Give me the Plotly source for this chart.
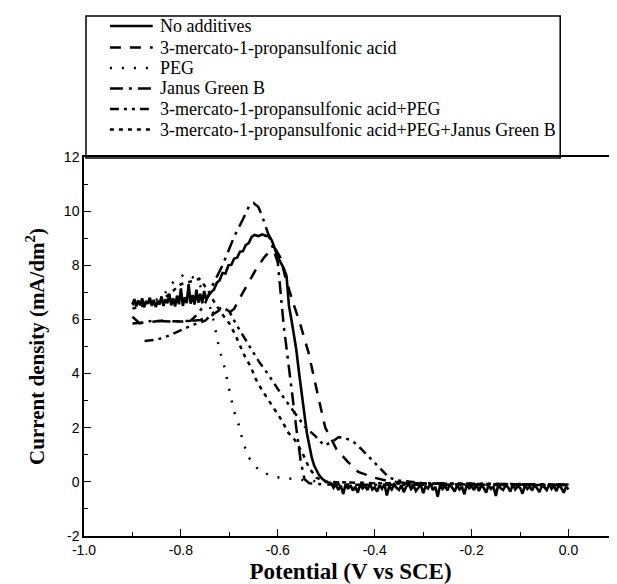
import plotly.graph_objects as go

# ---------------- data ----------------
NOADD_X = [-0.900,-0.896,-0.892,-0.888,-0.884,-0.880,-0.876,-0.872,-0.868,-0.864,-0.860,-0.856,-0.852,-0.848,
           -0.844,-0.840,-0.836,-0.832,-0.828,-0.824,-0.820,-0.816,-0.812,-0.808,-0.804,-0.800,-0.796,-0.792,
           -0.788,-0.784,-0.780,-0.776,-0.772,-0.768,-0.764,-0.760,-0.756,-0.752,-0.748,
           -0.744,-0.738,-0.732,-0.726,-0.720,-0.714,-0.708,-0.702,-0.696,-0.690,-0.684,-0.678,-0.672,-0.666,
           -0.660,-0.654,-0.648,-0.640,-0.632,-0.624,-0.618,-0.612,-0.606,-0.600,-0.594,-0.588,-0.582,-0.577,
           -0.572,-0.567,-0.562,-0.556,-0.550,-0.545,-0.540,-0.535,-0.530,-0.525,-0.520,-0.515,-0.508,-0.500,
           -0.495,
           -0.490,-0.485,-0.480,-0.475,-0.470,-0.465,-0.460,-0.455,-0.450,-0.445,-0.440,-0.435,-0.430,-0.425,
           -0.420,-0.415,-0.410,-0.405,-0.400,-0.395,-0.390,-0.385,-0.380,-0.375,-0.370,-0.365,-0.360,-0.355,
           -0.350,-0.345,-0.340,-0.335,-0.330,-0.325,-0.320,-0.315,-0.310,-0.305,-0.300,-0.295,-0.290,-0.285,
           -0.280,-0.275,-0.270,-0.265,-0.260,-0.255,-0.250,-0.245,-0.240,-0.235,-0.230,-0.225,-0.220,-0.215,
           -0.210,-0.205,-0.200,-0.195,-0.190,-0.185,-0.180,-0.175,-0.170,-0.165,-0.160,-0.155,-0.150,-0.145,
           -0.140,-0.135,-0.130,-0.125,-0.120,-0.115,-0.110,-0.105,-0.100,-0.095,-0.090,-0.085,-0.080,-0.075,
           -0.070,-0.065,-0.060,-0.055,-0.050,-0.045,-0.040,-0.035,-0.030,-0.025,-0.020,-0.015,-0.010,-0.005,
           0.000]
NOADD_Y = [6.55,6.75,6.48,6.70,6.52,6.78,6.45,6.68,6.58,6.80,6.50,6.72,6.46,6.66,
           6.55,6.85,6.50,6.74,6.60,6.95,6.52,6.78,6.48,6.88,6.56,7.15,6.50,6.82,
           6.60,7.30,6.58,6.90,6.55,7.10,6.62,6.95,6.60,7.05,6.75,
           6.85,7.00,7.10,7.35,7.45,7.72,7.70,8.00,8.02,8.25,8.28,8.50,8.52,8.75,
           8.82,9.05,9.12,9.08,9.14,9.08,9.10,8.90,8.60,8.30,8.10,7.90,7.60,6.50,
           6.00,5.50,4.90,4.00,3.20,2.50,1.80,1.35,0.90,0.60,0.40,0.25,0.10,0.00,
           -0.02,
           -0.05,-0.22,-0.10,-0.30,-0.14,-0.45,-0.08,-0.26,-0.12,-0.32,-0.18,-0.40,-0.10,-0.24,
           -0.15,-0.30,-0.06,-0.28,-0.20,-0.36,-0.12,-0.25,-0.08,-0.50,-0.16,-0.28,-0.10,-0.22,
           -0.30,-0.12,-0.38,-0.18,-0.08,-0.26,-0.14,-0.34,-0.20,-0.10,-0.42,-0.16,-0.24,-0.06,
           -0.30,-0.18,-0.55,-0.12,-0.26,-0.14,-0.32,-0.08,-0.22,-0.36,-0.12,-0.28,-0.18,-0.46,
           -0.10,-0.24,-0.16,-0.30,-0.08,-0.34,-0.14,-0.22,-0.40,-0.12,-0.26,-0.18,-0.52,-0.10,
           -0.24,-0.30,-0.14,-0.20,-0.36,-0.08,-0.28,-0.16,-0.22,-0.44,-0.12,-0.26,-0.18,-0.32,
           -0.10,-0.24,-0.38,-0.14,-0.20,-0.30,-0.08,-0.26,-0.16,-0.34,-0.12,-0.22,-0.40,-0.18,
           -0.28]

MPS_X = [-0.900,-0.870,-0.840,-0.800,-0.760,-0.740,-0.720,-0.700,-0.690,-0.675,-0.660,-0.645,-0.628,
         -0.615,-0.605,-0.595,-0.585,-0.570,-0.555,-0.537,-0.516,-0.502,-0.490,-0.479,-0.456,-0.434,
         -0.400,-0.370,-0.330,-0.200,0.000]
MPS_Y = [5.85,5.90,5.95,5.92,5.98,6.10,6.35,6.25,6.40,6.90,7.35,7.85,8.30,
         8.55,8.60,8.30,7.60,6.70,5.90,4.80,3.10,2.00,1.60,1.20,0.75,0.37,
         0.15,0.02,-0.05,-0.10,-0.12]

PEG_X = [-0.900,-0.870,-0.840,-0.815,-0.790,-0.770,-0.755,-0.742,-0.733,-0.728,-0.721,-0.711,-0.704,
         -0.697,-0.691,-0.680,-0.672,-0.660,-0.638,-0.606,-0.574,-0.540,-0.500,-0.400,-0.200,0.000]
PEG_Y = [6.55,6.60,6.80,7.40,7.70,7.50,7.10,6.60,6.00,5.50,4.93,4.30,3.75,
         3.20,2.64,2.07,1.48,0.90,0.40,0.18,0.11,0.05,0.00,-0.05,-0.08,-0.10]

JGB_X = [-0.900,-0.885,-0.860,-0.820,-0.780,-0.765,-0.750,-0.735,-0.714,-0.690,-0.672,-0.659,-0.650,
         -0.640,-0.632,-0.623,-0.610,-0.600,-0.588,-0.577,-0.570,-0.562,-0.553,-0.545,-0.535,-0.500,
         -0.300,0.000]
JGB_Y = [6.10,5.85,5.95,5.92,5.95,6.20,6.60,7.25,8.00,9.06,9.70,10.20,10.30,
         10.15,9.80,9.30,8.60,8.10,5.80,4.30,3.20,2.00,0.80,0.10,-0.05,-0.10,
         -0.10,-0.12]

MPSPEG_X = [-0.875,-0.850,-0.825,-0.800,-0.775,-0.750,-0.730,-0.715,-0.700,-0.687,-0.663,-0.639,-0.621,
            -0.591,-0.564,-0.545,-0.523,-0.505,-0.490,-0.475,-0.462,-0.445,-0.428,-0.400,-0.383,-0.370,
            -0.350,-0.300,0.000]
MPSPEG_Y = [5.20,5.25,5.40,5.60,5.80,5.95,6.30,6.45,6.30,5.85,5.15,4.44,4.00,
            3.19,2.52,2.05,1.70,1.35,1.45,1.65,1.62,1.50,1.22,0.70,0.40,0.15,
            0.05,-0.05,-0.10]

ALL_X = [-0.900,-0.870,-0.840,-0.820,-0.800,-0.780,-0.762,-0.745,-0.730,-0.715,-0.700,-0.689,-0.679,
         -0.669,-0.656,-0.646,-0.632,-0.617,-0.605,-0.590,-0.580,-0.565,-0.550,-0.535,-0.520,-0.500,
         -0.400,-0.200,0.000]
ALL_Y = [6.40,6.55,6.70,7.00,7.30,7.40,7.50,7.10,6.60,6.20,5.85,5.48,5.10,
         4.67,4.26,3.81,3.37,2.96,2.60,2.22,1.85,1.55,1.10,0.50,0.15,0.00,
         -0.05,-0.08,-0.10]

SERIES_NAMES = ["No additives",
                "3-mercato-1-propansulfonic acid",
                "PEG",
                "Janus Green B",
                "3-mercato-1-propansulfonic acid+PEG",
                "3-mercato-1-propansulfonic acid+PEG+Janus Green B"]

X_TICK_VALS = [-1.0, -0.8, -0.6, -0.4, -0.2, 0.0]
X_TICK_TEXT = ["-1.0", "-0.8", "-0.6", "-0.4", "-0.2", "0.0"]
X_MINOR_VALS = [-0.9, -0.7, -0.5, -0.3, -0.1]
Y_TICK_VALS = [-2, 0, 2, 4, 6, 8, 10, 12]
Y_TICK_TEXT = ["-2", "0", "2", "4", "6", "8", "10", "12"]
Y_MINOR_VALS = [-1, 1, 3, 5, 7, 9, 11]

# ---------------- layout geometry (pixels) ----------------
W, H = 617, 584
ML, MR, MT, MB = 76, 6, 149, 56
PW, PH = W - ML - MR, H - MT - MB


def px_to_paper_x(px):
    return (px - ML) / PW


def px_to_paper_y(py):
    return (H - MB - py) / PH


SERIF = "Liberation Serif, Times New Roman, serif"
SANS = "Liberation Sans, Arial, sans-serif"

styles = [
    dict(width=2.6, dash="solid"),
    dict(width=2.5, dash="11px,9px"),
    dict(width=2.5, dash="2px,10px"),
    dict(width=2.5, dash="13px,6px,3px,6px"),
    dict(width=2.5, dash="9px,5px,3px,5px,3px,5px"),
    dict(width=2.5, dash="4px,5px"),
]
data_sets = [(NOADD_X, NOADD_Y), (MPS_X, MPS_Y), (PEG_X, PEG_Y), (JGB_X, JGB_Y),
             (MPSPEG_X, MPSPEG_Y), (ALL_X, ALL_Y)]

fig = go.Figure()
for name, (xs, ys), st in zip(SERIES_NAMES, data_sets, styles):
    fig.add_trace(go.Scatter(x=xs, y=ys, mode="lines", name=name, showlegend=False,
                             line=dict(color="black", width=st["width"], dash=st["dash"])))

# ---- legend box drawn as shapes + annotations ----
LEG_LEFT, LEG_RIGHT, LEG_TOP, LEG_BOTTOM = 78, 554, 8, 150
ROW_Y = [18, 39.5, 60, 80.5, 101, 121.5]
SAMPLE_X0, SAMPLE_X1, TEXT_X = 102, 145, 150

shapes = [dict(type="rect", xref="paper", yref="paper",
               x0=px_to_paper_x(LEG_LEFT), x1=px_to_paper_x(LEG_RIGHT),
               y0=px_to_paper_y(LEG_BOTTOM), y1=px_to_paper_y(LEG_TOP),
               line=dict(color="black", width=1.5), fillcolor="white", layer="below")]
annotations = []
for name, st, ry in zip(SERIES_NAMES, styles, ROW_Y):
    shapes.append(dict(type="line", xref="paper", yref="paper",
                       x0=px_to_paper_x(SAMPLE_X0), x1=px_to_paper_x(SAMPLE_X1),
                       y0=px_to_paper_y(ry), y1=px_to_paper_y(ry),
                       line=dict(color="black", width=st["width"], dash=st["dash"])))
    annotations.append(dict(xref="paper", yref="paper", x=px_to_paper_x(TEXT_X), y=px_to_paper_y(ry),
                            xanchor="left", yanchor="middle", showarrow=False, text=name,
                            font=dict(family=SERIF, size=18, color="black")))

axis_common = dict(showgrid=False, zeroline=False, showline=True, linecolor="black", linewidth=1.5,
                   mirror=True, ticks="inside", ticklen=7, tickwidth=1.3, tickcolor="black",
                   tickfont=dict(family=SANS, size=14, color="black"))

fig.update_layout(
    width=W, height=H,
    paper_bgcolor="white", plot_bgcolor="white",
    margin=dict(l=ML, r=MR, t=MT, b=MB),
    showlegend=False,
    shapes=shapes,
    annotations=annotations,
    xaxis=dict(range=[-1.0, 0.1], tickvals=X_TICK_VALS, ticktext=X_TICK_TEXT,
               minor=dict(tickvals=X_MINOR_VALS, ticks="inside", ticklen=4, tickcolor="black"),
               title=dict(text="<b>Potential (V vs SCE)</b>", standoff=6,
                          font=dict(family=SERIF, size=23, color="black")),
               **axis_common),
    yaxis=dict(range=[-2, 12], tickvals=Y_TICK_VALS, ticktext=Y_TICK_TEXT,
               minor=dict(tickvals=Y_MINOR_VALS, ticks="inside", ticklen=4, tickcolor="black"),
               title=dict(text="<b>Current density (mA/dm<sup>2</sup>)</b>", standoff=14,
                          font=dict(family=SERIF, size=21, color="black")),
               **axis_common),
)

fig.write_html("out.html")
